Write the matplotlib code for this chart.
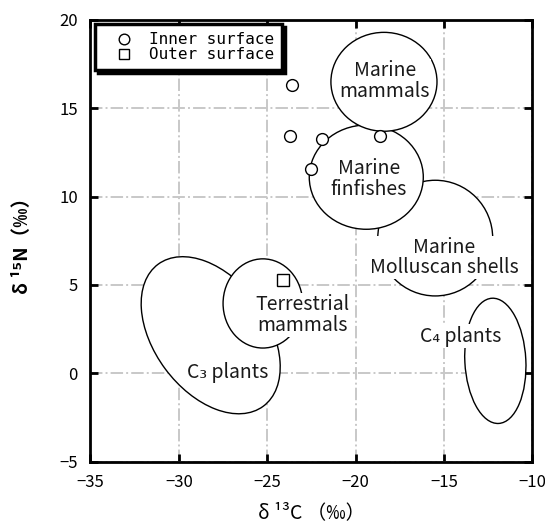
import matplotlib
matplotlib.use('Agg')
import matplotlib.pyplot as plt
from matplotlib.patches import Ellipse

plt.rcParams['font.family'] = ['Noto Sans CJK JP', 'DejaVu Sans']

# measured points
inner_x = [-23.6, -23.7, -21.9, -18.6, -22.5]
inner_y = [16.3, 13.45, 13.25, 13.45, 11.55]
outer_x = [-24.1]
outer_y = [5.25]

# source regions: name, centre x, centre y, width, height, angle
regions = ['C3 plants', 'Terrestrial mammals', 'Marine Molluscan shells',
           'Marine finfishes', 'Marine mammals', 'C4 plants']
reg_x = [-28.2, -25.25, -15.5, -19.4, -18.4, -12.1]
reg_y = [2.15, 3.95, 7.65, 11.1, 16.5, 0.7]
reg_w = [10.0, 4.5, 6.5, 6.45, 6.0, 3.45]
reg_h = [6.4, 5.05, 6.55, 5.9, 5.6, 7.1]
reg_a = [-53.5, 0, 0, 0, 0, 3]

labels = ['C₃ plants', 'Terrestrial\nmammals', 'Marine\nMolluscan shells',
          'Marine\nfinfishes', 'Marine\nmammals', 'C₄ plants']
lab_x = [-27.25, -23.0, -15.0, -19.25, -18.35, -14.05]
lab_y = [0.05, 3.3, 6.55, 11.0, 16.55, 2.1]

fig = plt.figure(figsize=(5.45, 5.26), dpi=100)
ax = fig.add_axes([0.166, 0.1226, 0.811, 0.8394])

ax.set_xlim(-35, -10)
ax.set_ylim(-5, 20)
ax.set_xticks([-35, -30, -25, -20, -15, -10])
ax.set_yticks([-5, 0, 5, 10, 15, 20])
ax.grid(True, color='#c8c8c8', linestyle='-.', linewidth=1.4, zorder=0)
ax.set_axisbelow(True)

for i in range(len(regions)):
    e = Ellipse((reg_x[i], reg_y[i]), reg_w[i], reg_h[i], angle=reg_a[i],
                facecolor='white', edgecolor='black', linewidth=1.0, zorder=2 + i * 0.1)
    ax.add_patch(e)

for i in range(len(labels)):
    ax.text(lab_x[i], lab_y[i], labels[i], ha='center', va='center', fontsize=14,
            linespacing=0.95, color='#1a1a1a', zorder=3,
            bbox=dict(facecolor='white', edgecolor='none', pad=0.8))

ax.plot(inner_x, inner_y, 'o', ms=8.5, mfc='white', mec='black', mew=1.0,
        zorder=4, label='Inner surface')
ax.plot(outer_x, outer_y, 's', ms=8.5, mfc='white', mec='black', mew=1.0,
        zorder=4, label='Outer surface')

leg = ax.legend(loc='upper left', bbox_to_anchor=(0.01, 0.99), borderaxespad=0,
                fancybox=False, framealpha=1, edgecolor='black',
                shadow={'color': 'black', 'alpha': 1},
                prop={'family': 'DejaVu Sans Mono', 'size': 11.5},
                labelspacing=0.0, handlelength=2.7, handletextpad=0.2,
                borderpad=0.5, markerscale=0.9)
leg.get_frame().set_linewidth(2.5)
leg.set_zorder(6)

for s in ax.spines.values():
    s.set_linewidth(2.0)
    s.set_zorder(7)
ax.tick_params(direction='in', length=6, width=2, top=True, right=True,
               labelsize=12, pad=9)

ax.set_xlabel('δ ¹³C （‰）', fontsize=14, labelpad=8)
ax.set_ylabel('δ ¹⁵N（‰）', fontsize=14, labelpad=20, fontweight='bold')

fig.savefig('out.png', dpi=100)
